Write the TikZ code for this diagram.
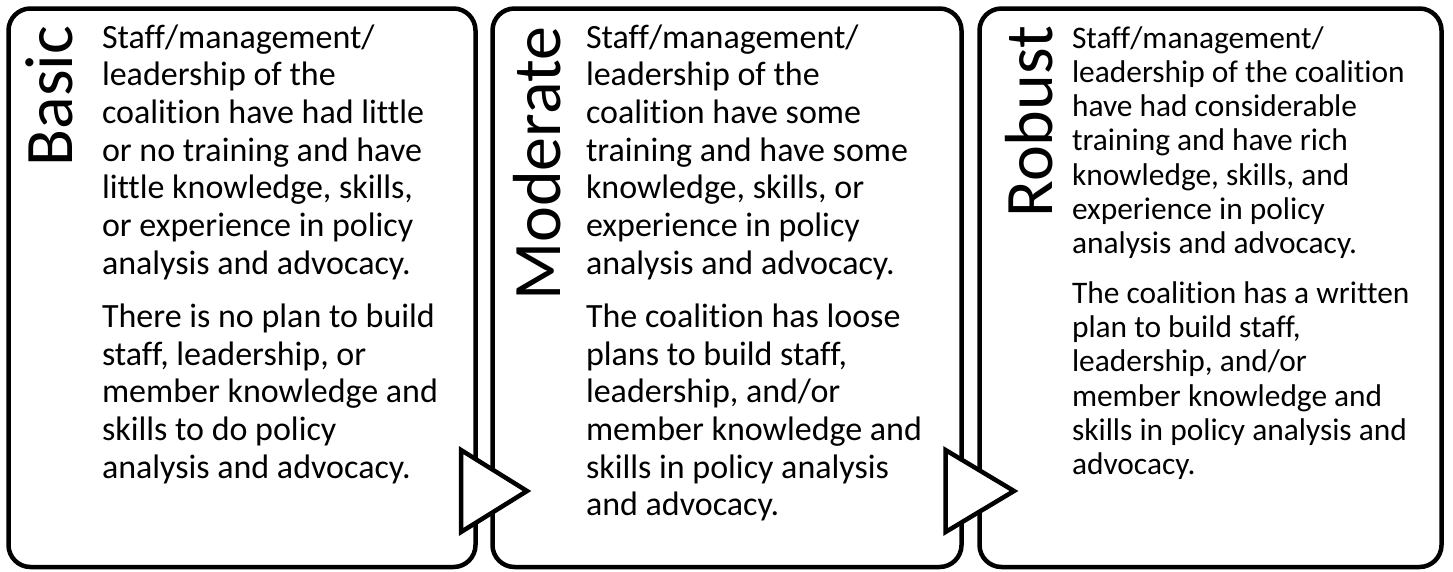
\documentclass[tikz,border=0pt]{standalone}
\usepackage{fontspec}
\setmainfont{Carlito}[Ligatures={NoCommon}]
\newfontfamily\stagefont{Carlito}[Ligatures={NoCommon}]
\usetikzlibrary{calc}
\begin{document}
\begin{tikzpicture}[x=1pt,y=1pt,
  stagebox/.style={draw=black, line width=4.5pt, rounded corners=22pt, fill=white,
    rectangle, inner sep=0pt, outer sep=0pt, minimum height=558.5pt},
  arrowtri/.style={draw=black, line width=4.5pt, fill=white, line join=miter},
  bodytext/.style={anchor=north west, inner sep=0pt, outer sep=0pt, align=left,
    font=\fontsize{34}{37.7}\selectfont},
  smalltext/.style={bodytext, font=\fontsize{31.4}{34.3}\selectfont},
  stagelabel/.style={rotate=90, anchor=base east, inner sep=0pt, outer sep=0pt,
    font=\stagefont\fontsize{68}{72}\selectfont}]
\useasboundingbox[fill=white] (0,0) rectangle (1453,-571);

\node[stagebox, minimum width=467pt] (b1) at (242,-287.75) {};
\node[stagebox, minimum width=469pt] (b2) at (727,-287.75) {};
\node[stagebox, minimum width=462pt] (b3) at (1210.5,-287.75) {};

\draw[arrowtri] (461,-450) coordinate (t1a) -- (461,-532) coordinate (t1b) -- (527,-491) coordinate (t1c) -- cycle;
\draw[arrowtri] (945.5,-450) coordinate (t2a) -- (945.5,-532) coordinate (t2b) -- (1014,-491) coordinate (t2c) -- cycle;

\node[stagelabel] (l1) at (72,-26) {Basic};
\node[stagelabel] (l2) at (560,-27) {Moderate};
\node[stagelabel] (l3) at (1052,-26) {Robust};

\node[bodytext] (x1) at (102,-18) {\rule{0pt}{30pt}Staff/management/\\
leadership of the\\
coalition have had little\\
or no training and have\\
little knowledge, skills,\\
or experience in policy\\
analysis and advocacy.\\[15.5pt]
There is no plan to build\\
staff, leadership, or\\
member knowledge and\\
skills to do policy\\
analysis and advocacy.};

\node[bodytext] (x2) at (586,-18) {\rule{0pt}{30pt}Staff/management/\\
leadership of the\\
coalition have some\\
training and have some\\
knowledge, skills, or\\
experience in policy\\
analysis and advocacy.\\[15.5pt]
The coalition has loose\\
plans to build staff,\\
leadership, and/or\\
member knowledge and\\
skills in policy analysis\\
and advocacy.};

\node[smalltext] (x3) at (1072,-20) {\rule{0pt}{28pt}Staff/management/\\
leadership of the coalition\\
have had considerable\\
training and have rich\\
knowledge, skills, and\\
experience in policy\\
analysis and advocacy.\\[15pt]
The coalition has a written\\
plan to build staff,\\
leadership, and/or\\
member knowledge and\\
skills in policy analysis and\\
advocacy.};
\end{tikzpicture}
\end{document}
